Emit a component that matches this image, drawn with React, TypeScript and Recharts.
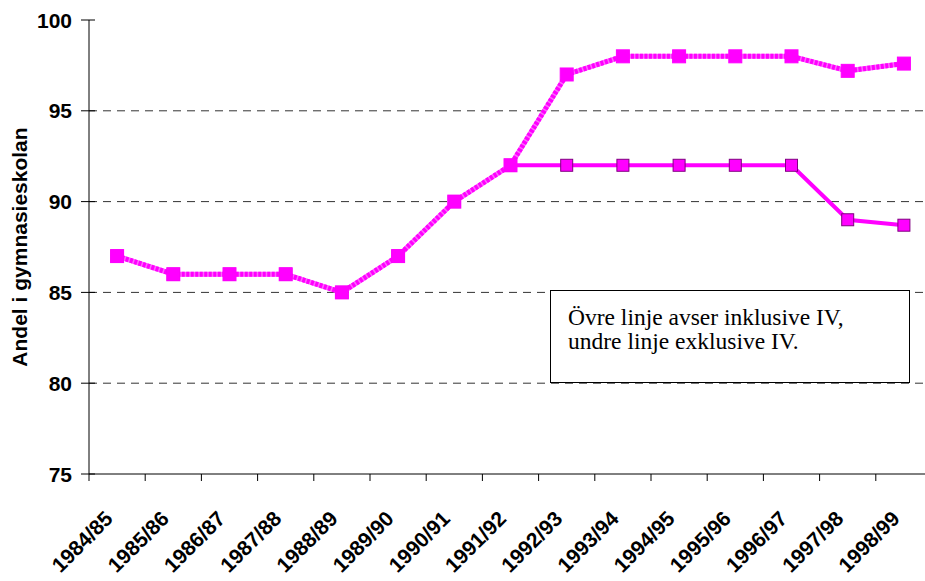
import { LineChart, Line, XAxis, YAxis, ReferenceLine } from "recharts";

const categories = [
  "1984/85", "1985/86", "1986/87", "1987/88", "1988/89", "1989/90", "1990/91", "1991/92",
  "1992/93", "1993/94", "1994/95", "1995/96", "1996/97", "1997/98", "1998/99",
];
// upper line: inklusive IV, lower line: exklusive IV
const inklIV = [87, 86, 86, 86, 85, 87, 90, 92, 97, 98, 98, 98, 98, 97.2, 97.6];
const exklIV = [87, 86, 86, 86, 85, 87, 90, 92, 92, 92, 92, 92, 92, 89, 88.7];
const yTicks = [75, 80, 85, 90, 95, 100];
const gridLevels = [80, 85, 90, 95];

const data = categories.map((name, i) => ({ name, inkl: inklIV[i], exkl: exklIV[i] }));

const CHART_W = 940;
const CHART_H = 581;
const Y_W = 89;
const MARGIN = { top: 20, right: 8, left: 0, bottom: 0 };
const STEP = (CHART_W - MARGIN.right - Y_W) / categories.length;
const FONT = "'Liberation Sans', Arial, sans-serif";

const XTick = ({ x, y, payload }: any) => (
  <g>
    <line x1={x - STEP / 2} x2={x - STEP / 2} y1={y} y2={y + 7} stroke="#000" />
    <text
      transform={`translate(${x - 3},${y + 46}) rotate(-45)`}
      textAnchor="end"
      fontFamily={FONT}
      fontWeight="bold"
      fontSize={21}
      fill="#000"
    >
      {payload.value}
    </text>
  </g>
);

const YTick = ({ x, y, payload }: any) => (
  <g>
    <line x1={x - 8} x2={x + 6} y1={y} y2={y} stroke="#000" />
    <text
      x={x - 17}
      y={y}
      dy="0.36em"
      textAnchor="end"
      fontFamily={FONT}
      fontWeight="bold"
      fontSize={21}
      fill="#000"
    >
      {payload.value}
    </text>
  </g>
);

const SquareDot = ({ cx, cy, size, stroke }: any) => {
  if (cx == null || cy == null) return null;
  return (
    <rect
      x={cx - size / 2}
      y={cy - size / 2}
      width={size}
      height={size}
      fill="#ff00ff"
      stroke={stroke || "none"}
      strokeWidth={1}
    />
  );
};

export default function App() {
  return (
    <div style={{ position: "absolute", left: 0, top: 0, width: 925, height: 581, overflow: "hidden", background: "#fff" }}>
      <LineChart width={CHART_W} height={CHART_H} data={data} margin={MARGIN}>
        <XAxis
          dataKey="name"
          scale="band"
          interval={0}
          tickLine={false}
          tickSize={0}
          tickMargin={0}
          height={107}
          axisLine={{ stroke: "#000" }}
          tick={<XTick />}
        />
        <YAxis
          domain={[75, 100]}
          ticks={yTicks}
          width={Y_W}
          tickLine={false}
          tickSize={0}
          tickMargin={0}
          axisLine={{ stroke: "#000" }}
          tick={<YTick />}
          label={{
            value: "Andel i gymnasieskolan",
            angle: -90,
            position: "insideLeft",
            offset: 20,
            style: { textAnchor: "middle", fontFamily: FONT, fontWeight: "bold", fontSize: 21, fill: "#000" },
          }}
        />
        {gridLevels.map((v) => (
          <ReferenceLine key={v} y={v} stroke="#333" strokeDasharray="8 6" />
        ))}
        <Line
          dataKey="exkl"
          stroke="#ff00ff"
          strokeWidth={4}
          dot={(p: any) => <SquareDot key={p.index} {...p} size={12} stroke="#800080" />}
          activeDot={false}
          isAnimationActive={false}
        />
        <Line
          dataKey="inkl"
          stroke="#ff66ff"
          strokeWidth={5}
          dot={false}
          activeDot={false}
          isAnimationActive={false}
        />
        <Line
          dataKey="inkl"
          stroke="#ff00ff"
          strokeWidth={5}
          strokeDasharray="3 1.5"
          dot={(p: any) => <SquareDot key={p.index} {...p} size={13} />}
          activeDot={false}
          isAnimationActive={false}
        />
      </LineChart>
      <div
        style={{
          position: "absolute",
          left: 550,
          top: 290,
          width: 360,
          height: 93,
          border: "1.5px solid #000",
          background: "#fff",
          fontFamily: "'Liberation Serif', 'Times New Roman', serif",
          fontSize: 23.5,
          lineHeight: "24px",
          padding: "14px 0 0 17px",
          boxSizing: "border-box",
          color: "#000",
          whiteSpace: "nowrap",
        }}
      >
        Övre linje avser inklusive IV,
        <br />
        undre linje exklusive IV.
      </div>
    </div>
  );
}
